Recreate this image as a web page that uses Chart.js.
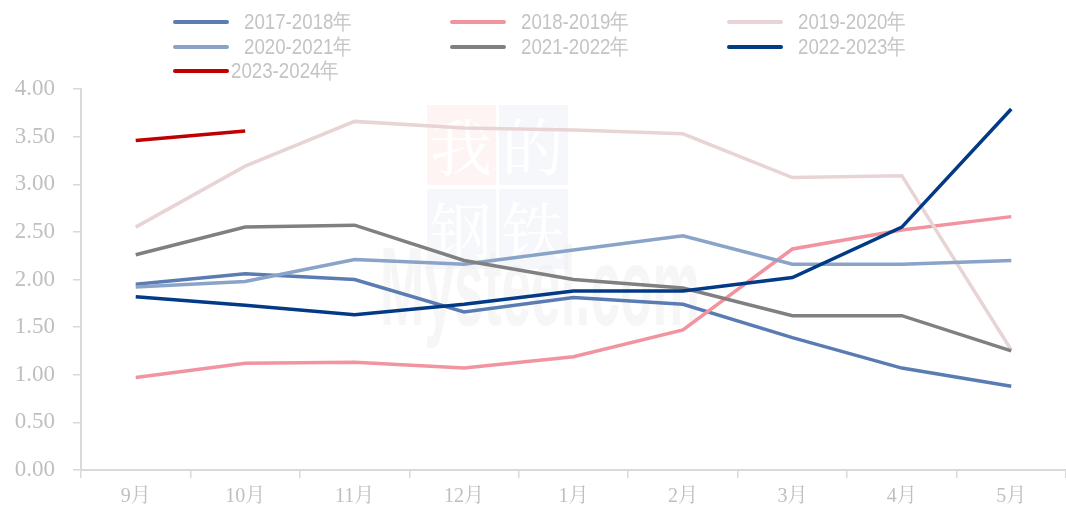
<!DOCTYPE html>
<html>
<head>
<meta charset="utf-8">
<script src="https://cdn.jsdelivr.net/npm/chart.js@4/dist/chart.umd.min.js"></script>
<style>
  body { margin: 0; background: #fff; }
  #wrap { position: relative; width: 1066px; height: 513px; }
  #legend { position: absolute; left: 0; top: 0; width: 1066px; height: 85px; }
  .item { position: absolute; height: 24px; font: 22px "Liberation Sans", sans-serif; color: #C4C4C4; white-space: nowrap; }
  .item i { position: absolute; top: 10px; width: 56px; height: 4px; border-radius: 2px; }
  .item span { position: absolute; top: 0; line-height: 24px; transform: scaleX(0.85); transform-origin: left center; }
</style>
</head>
<body>
<div id="wrap">
  <canvas id="line-chart"></canvas>
  <div id="legend"></div>
</div>
<script>
  const months = ['9月', '10月', '11月', '12月', '1月', '2月', '3月', '4月', '5月'];
  const seasons = ['2017-2018年', '2018-2019年', '2019-2020年', '2020-2021年', '2021-2022年', '2022-2023年', '2023-2024年'];
  const colors = ['#5B7CB2', '#F2949F', '#E8D4D4', '#8AA3C8', '#808080', '#033A86', '#C00000'];

  const s1718 = [1.95, 2.06, 2.00, 1.66, 1.81, 1.74, 1.39, 1.07, 0.88];
  const s1819 = [0.97, 1.12, 1.13, 1.07, 1.19, 1.47, 2.32, 2.52, 2.66];
  const s1920 = [2.55, 3.19, 3.66, 3.59, 3.57, 3.53, 3.07, 3.09, 1.26];
  const s2021 = [1.92, 1.98, 2.21, 2.16, 2.31, 2.46, 2.16, 2.16, 2.20];
  const s2122 = [2.26, 2.55, 2.57, 2.20, 2.00, 1.91, 1.62, 1.62, 1.25];
  const s2223 = [1.82, 1.73, 1.63, 1.74, 1.88, 1.88, 2.02, 2.55, 3.79];
  const s2324 = [3.46, 3.56];

  const seriesList = [s1718, s1819, s1920, s2021, s2122, s2223, s2324];

  // legend laid out like the excel one: 3 columns
  const legendBox = document.getElementById('legend');
  seasons.forEach((name, i) => {
    const col = i % 3, row = Math.floor(i / 3);
    const el = document.createElement('div');
    el.className = 'item';
    el.style.left = (173 + col * 277) + 'px';
    el.style.top = (10 + row * 24.5) + 'px';
    el.innerHTML = '<i style="background:' + colors[i] + '"></i><span style="left:' + (row == 2 ? 58 : 71) + 'px">' + name + '</span>';
    legendBox.appendChild(el);
  });

  const watermark = {
    id: 'watermark',
    beforeDatasetsDraw(chart) {
      const ctx = chart.ctx;
      ctx.save();
      const boxes = [
        [427, 105, '#FEF4F4', '我'], [499, 105, '#F6F7FB', '的'],
        [427, 189, '#F6F7FB', '钢'], [499, 189, '#F6F7FB', '铁']
      ];
      boxes.forEach(b => {
        ctx.fillStyle = b[2];
        ctx.fillRect(b[0], b[1], 69, 80);
        ctx.fillStyle = '#FFFFFF';
        ctx.font = '62px "Noto Serif CJK SC", "Noto Sans CJK SC"';
        ctx.textAlign = 'center';
        ctx.textBaseline = 'middle';
        ctx.fillText(b[3], b[0] + 34, b[1] + 42);
      });
      ctx.fillStyle = 'rgba(238,238,238,0.5)';
      ctx.font = 'bold 112px "Liberation Sans"';
      ctx.textAlign = 'left';
      ctx.textBaseline = 'alphabetic';
      const w = ctx.measureText('Mysteel.com').width;
      ctx.translate(380, 325);
      ctx.scale(320 / w, 1);
      ctx.fillText('Mysteel.com', 0, 0);
      ctx.restore();
    }
  };

  const axisGrey = '#D9D9D9';
  const labelGrey = '#BFBFBF';

  new Chart(document.getElementById('line-chart').getContext('2d'), {
    type: 'line',
    data: {
      labels: months,
      datasets: seriesList.map((data, i) => ({
        label: seasons[i],
        data: data,
        borderColor: colors[i],
        backgroundColor: colors[i],
        borderWidth: 3.5,
        pointRadius: 0,
        tension: 0,
        order: seriesList.length - i
      }))
    },
    options: {
      responsive: true,
      maintainAspectRatio: false,
      animation: false,
      layout: { padding: { top: 89, left: 0, right: 0, bottom: 0 } },
      plugins: { legend: { display: false }, tooltip: { enabled: false } },
      scales: {
        x: {
          offset: true,
          afterFit: s => { s.height = 43; },
          grid: { offset: true, drawOnChartArea: false, tickLength: 8, color: axisGrey, lineWidth: 1.5 },
          border: { color: axisGrey, width: 2 },
          ticks: { color: labelGrey, padding: 7, font: { family: '"Liberation Serif", "Noto Serif CJK SC", "Noto Sans CJK SC"', size: 20 } }
        },
        y: {
          min: 0,
          max: 4,
          afterFit: s => { s.width = 81; },
          grid: { drawOnChartArea: false, tickLength: 8, color: axisGrey, lineWidth: 1.5 },
          border: { color: axisGrey, width: 2 },
          ticks: {
            stepSize: 0.5,
            color: labelGrey,
            padding: 18,
            font: { family: '"Liberation Serif"', size: 23 },
            callback: v => v.toFixed(2)
          }
        }
      }
    },
    plugins: [watermark]
  });
</script>
</body>
</html>
